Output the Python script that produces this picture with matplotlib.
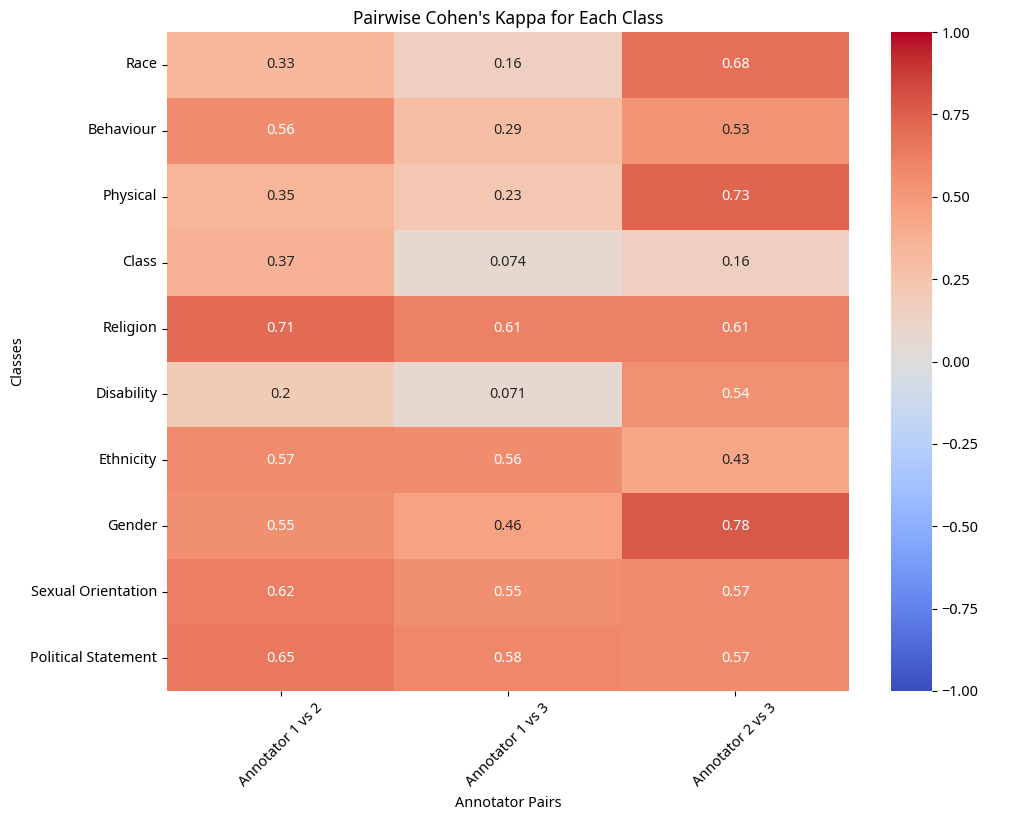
import numpy as np
import pandas as pd
import matplotlib
matplotlib.use("Agg")
import matplotlib.pyplot as plt
import seaborn as sns

plt.rcParams['font.family'] = ['Noto Sans', 'DejaVu Sans']
plt.rcParams['font.size'] = 10.4

classes = ["Race", "Behaviour", "Physical", "Class", "Religion", "Disability",
           "Ethnicity", "Gender", "Sexual Orientation", "Political Statement"]
pairs = ["Annotator 1 vs 2", "Annotator 1 vs 3", "Annotator 2 vs 3"]

kappa_1_2 = [0.33, 0.56, 0.35, 0.37, 0.71, 0.2, 0.57, 0.55, 0.62, 0.65]
kappa_1_3 = [0.16, 0.29, 0.23, 0.074, 0.61, 0.071, 0.56, 0.46, 0.55, 0.58]
kappa_2_3 = [0.68, 0.53, 0.73, 0.16, 0.61, 0.54, 0.43, 0.78, 0.57, 0.57]

df = pd.DataFrame({pairs[0]: kappa_1_2, pairs[1]: kappa_1_3, pairs[2]: kappa_2_3},
                  index=classes)

fig = plt.figure(figsize=(10.23, 8.14), dpi=100)
ax = fig.add_axes([167/1023, 1 - 691/814, (849-167)/1023, (691-32)/814])
cax = fig.add_axes([891/1023, 1 - 691/814, (932-891)/1023, (691-32)/814])

sns.heatmap(df, annot=True, cmap="coolwarm", vmin=-1, vmax=1, ax=ax, cbar_ax=cax)
ax.set_title("Pairwise Cohen's Kappa for Each Class")
ax.set_xlabel("Annotator Pairs")
ax.set_ylabel("Classes")
plt.setp(ax.get_xticklabels(), rotation=45)
plt.setp(ax.get_yticklabels(), rotation=0)

fig.savefig("out.png", dpi=100)
